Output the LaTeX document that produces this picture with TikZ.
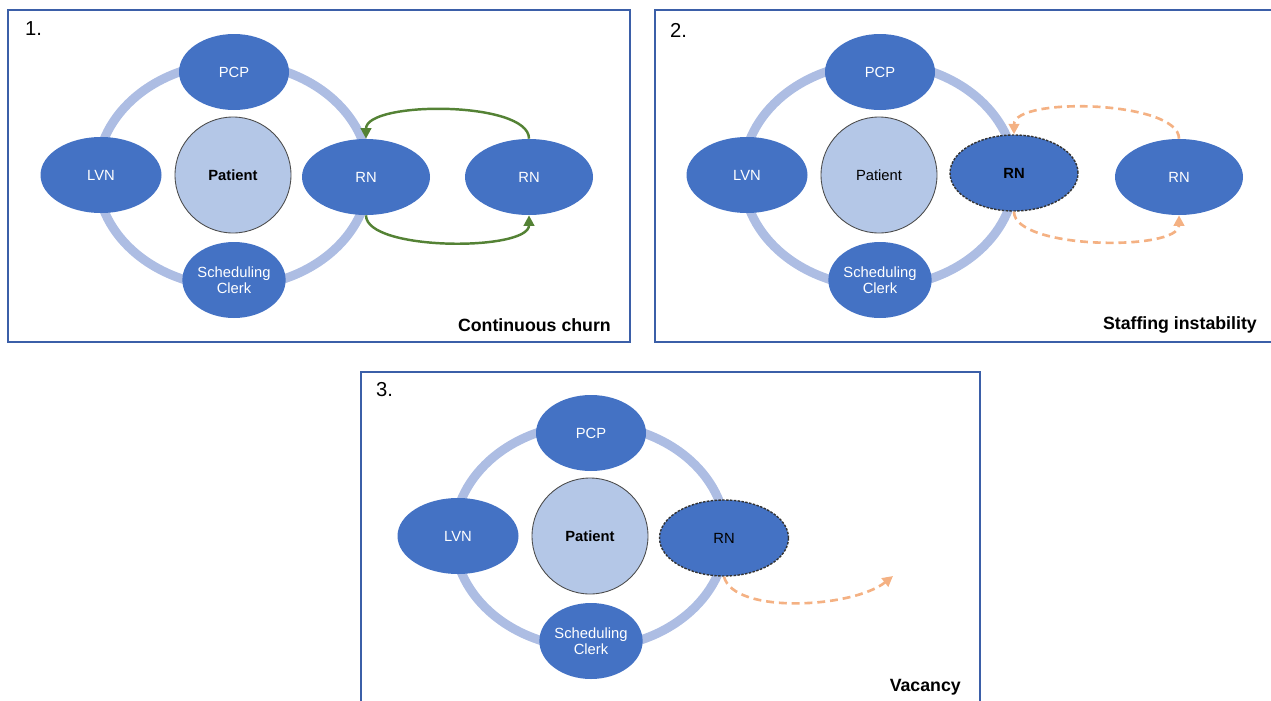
\documentclass[tikz,border=0pt]{standalone}
\usepackage{fontspec}
\setmainfont{Liberation Sans}
\usetikzlibrary{shapes.geometric,arrows.meta}
\definecolor{teamblue}{HTML}{4472C4}
\definecolor{ringblue}{HTML}{ADBDE3}
\definecolor{patientblue}{HTML}{B4C7E7}
\definecolor{frameblue}{HTML}{3B5FA8}
\definecolor{churngreen}{HTML}{548235}
\definecolor{lossorange}{HTML}{F4B183}
\newcommand{\pxu}{0.02cm}
\tikzset{
  ring/.style={draw=ringblue, line width=9*\pxu},
  role/.style={ellipse, fill=teamblue, text=white, inner sep=0pt, minimum height=76*\pxu,
    font=\fontsize{8.4}{8.8}\selectfont, align=center},
  patient/.style={circle, fill=patientblue, draw=black!70, line width=0.5pt, inner sep=0pt,
    minimum size=116*\pxu, font=\fontsize{8.4}{10}\selectfont},
  leaving/.style={draw=black!80, line width=0.8pt, dash pattern=on 1.4pt off 0.8pt, text=black},
  panel/.style={draw=frameblue, line width=0.8pt},
  number/.style={anchor=west, font=\fontsize{11.5}{13}\selectfont},
  caption/.style={anchor=east, font=\fontsize{10.1}{12}\selectfont\bfseries},
  churn/.style={draw=churngreen, line width=1.4pt, -{Triangle[length=6pt,width=6pt]}},
  loss/.style={draw=lossorange, line width=1.5pt, dash pattern=on 4.5pt off 2.8pt,
    -{Triangle[length=6pt,width=6pt]}}
}
% ring, PCP, LVN, patient and clerk round one centre
\newcommand{\careteam}[4]{
  \draw[ring] (#2,#3) ellipse (136 and 112);
  \node[role, minimum width=110*\pxu] (#1pcp) at (#2+1,#3-103) {PCP};
  \node[role, minimum width=121*\pxu] (#1lvn) at (#2-132,#3) {LVN};
  \node[patient, font=\fontsize{8.4}{10}\selectfont#4] (#1pat) at (#2,#3) {Patient};
  \node[role, minimum width=102*\pxu] (#1clerk) at (#2+1,#3+105) {Scheduling\\Clerk};
}

\begin{document}
\begin{tikzpicture}[x=0.02cm, y=-0.02cm]
  \useasboundingbox (0,0) rectangle (1271,700);

  % 1. continuous churn
  \draw[panel] (8,10) rectangle (630,342);
  \node[number] (num1) at (19,29) {1.};
  \careteam{p1}{233}{175}{\bfseries}
  \node[role, minimum width=128*\pxu] (p1rna) at (366,177) {RN};
  \node[role, minimum width=128*\pxu] (p1rnb) at (529,177) {RN};
  \draw[churn] (p1rnb.north) .. controls +(0,-38) and +(0,-38) .. (p1rna.north);
  \draw[churn] (p1rna.south) .. controls +(0,36) and +(0,36) .. (p1rnb.south);
  \node[caption] (cap1) at (617,325) {Continuous churn};

  % 2. staffing instability
  \draw[panel] (655,10) rectangle (1290,342);
  \node[number] (num2) at (664,30) {2.};
  \careteam{p2}{879}{175}{}
  \node[role, leaving, minimum width=128*\pxu, font=\fontsize{8.4}{10}\selectfont\bfseries] (p2rna) at (1014,173) {RN};
  \node[role, minimum width=128*\pxu] (p2rnb) at (1179,177) {RN};
  \draw[loss] (p2rnb.north) .. controls +(0,-38) and +(0,-38) .. (p2rna.north);
  \draw[loss] (p2rna.south) .. controls +(0,38) and +(0,36) .. (p2rnb.south);
  \node[caption] (cap2) at (1263,325) {Staffing instability};

  % 3. vacancy
  \draw[panel] (361,372) rectangle (980,720);
  \node[number] (num3) at (370,390) {3.};
  \careteam{p3}{590}{536}{\bfseries}
  \node[role, leaving, minimum width=129*\pxu] (p3rn) at (724,538) {RN};
  \coordinate (gone) at (893,576);
  \draw[loss] (p3rn.south) .. controls +(10,38) and +(-40,32) .. (gone);
  \node[caption] (cap3) at (967,687) {Vacancy};
\end{tikzpicture}
\end{document}
